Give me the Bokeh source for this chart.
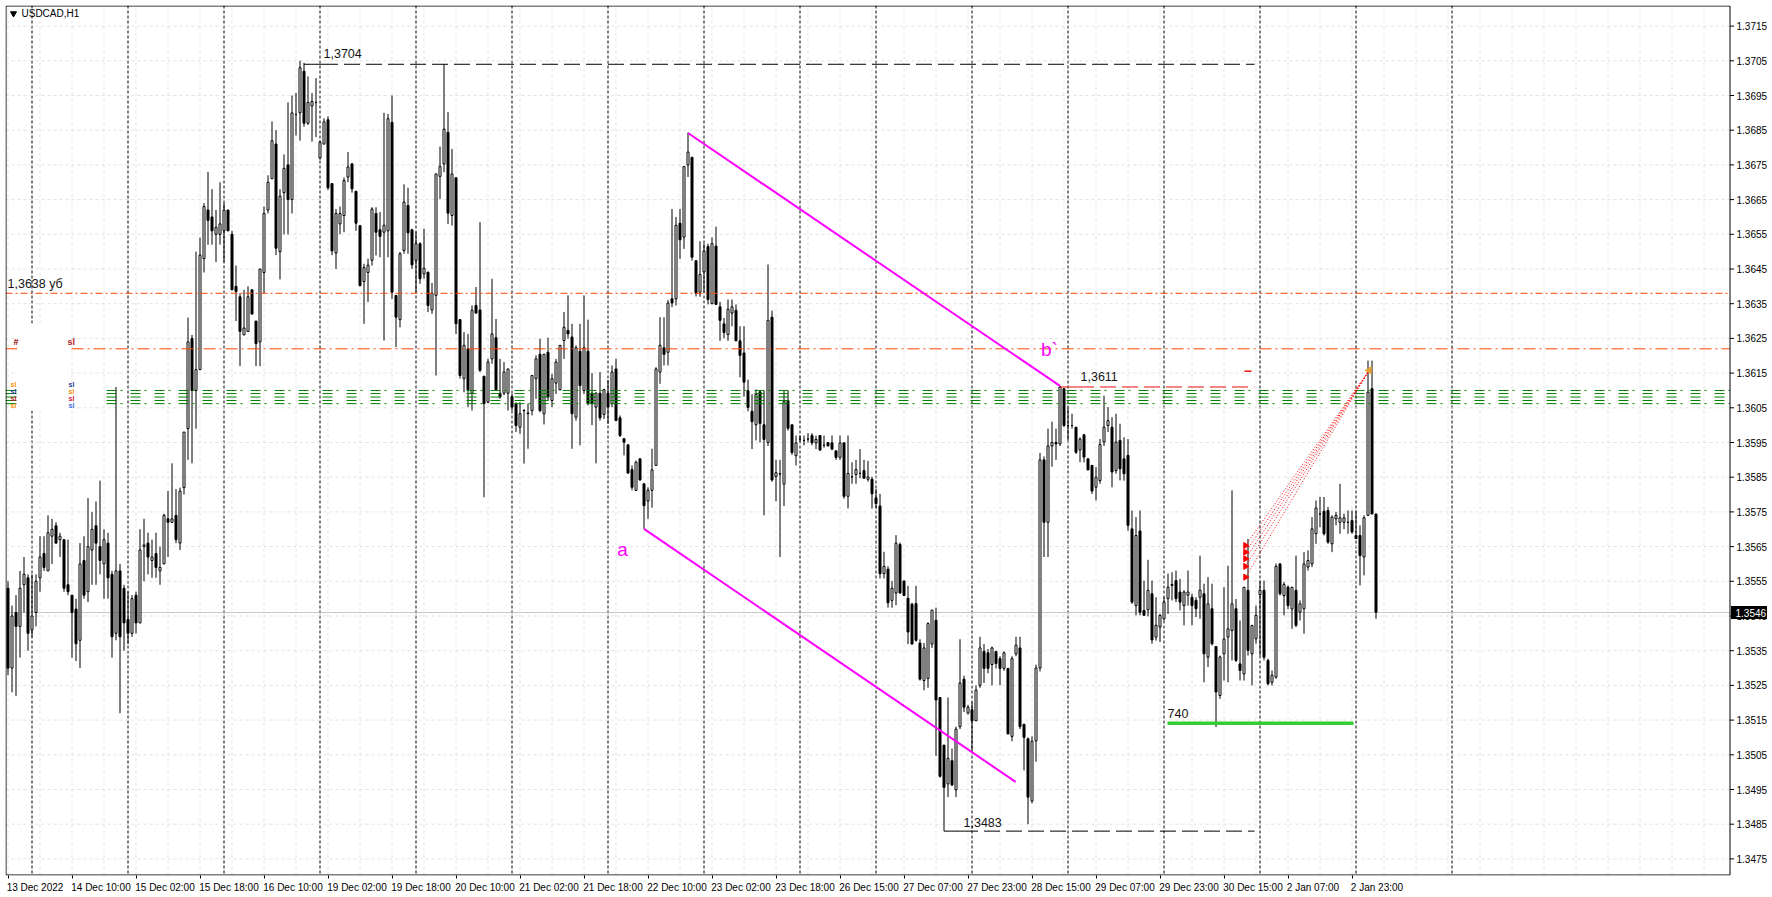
import numpy as np
import pandas as pd
from bokeh.plotting import figure
from bokeh.models import ColumnDataSource, Range1d, FixedTicker, Span
from bokeh.core.properties import value
from bokeh.embed import file_html
from bokeh.resources import INLINE

chart_title = "USDCAD,H1"

opens = [
1.3553,1.3530,1.3546,1.3542,1.3554,1.3556,1.3541,1.3546,1.3556,1.3563,
1.3558,1.3568,1.3571,1.3567,1.3567,1.3554,1.3551,1.3547,1.3538,1.3561,
1.3552,1.3564,1.3571,1.3565,1.3560,1.3566,1.3557,1.3540,1.3558,1.3553,
1.3544,1.3540,1.3551,1.3543,1.3565,1.3566,1.3561,1.3563,1.3558,1.3560,
1.3573,1.3572,1.3574,1.3566,1.3582,1.3599,1.3625,1.3610,1.3616,1.3648,
1.3662,1.3660,1.3655,1.3655,1.3656,1.3662,1.3655,1.3640,1.3637,1.3626,
1.3627,1.3639,1.3630,1.3624,1.3644,1.3662,1.3671,1.3681,1.3650,1.3667,
1.3675,1.3665,1.36895,1.3690,1.3702,1.3687,1.3692,1.3693,1.3677,1.3681,
1.3688,1.36696,1.36496,1.3658,1.36604,1.36715,1.36753,1.36674,1.36575,1.36414,
1.3644,1.36475,1.3661,1.36563,1.36556,1.3656,1.36873,1.36374,1.36304,1.36503,
1.36633,1.36563,1.36475,1.36523,1.36436,1.36441,1.36332,1.36374,1.36717,1.36753,
1.36844,1.36604,1.36713,1.36304,1.36134,1.3622,1.36092,1.36345,1.36332,1.36141,
1.36066,1.36191,1.36252,1.36092,1.36092,1.36092,1.36082,1.36062,1.35994,1.36042,
1.36033,1.36042,1.36134,1.36204,1.36033,1.3621,1.36071,1.36121,1.36102,1.36244,
1.36273,1.36254,1.36023,1.36213,1.3610,1.36213,1.36092,1.36052,1.36092,1.36031,
1.36092,1.36062,1.36162,1.36021,1.35961,1.35943,1.35872,1.35812,1.35903,1.35831,
1.35781,1.35812,1.35884,1.36153,1.36223,1.3621,1.36364,1.36364,1.36582,1.36542,
1.3675,1.36772,1.36474,1.36383,1.36442,1.36515,1.3635,1.36516,1.36341,1.36292,
1.36261,1.36323,1.36331,1.36243,1.36208,1.36099,1.3604,1.36001,1.36096,1.36001,
1.3595,1.36311,1.35852,1.35859,1.3583,1.36071,1.36001,1.35912,1.3596,1.35956,
1.3596,1.3597,1.35949,1.3597,1.35942,1.3595,1.35949,1.35926,1.35907,1.35949,
1.35795,1.35851,1.35858,1.35861,1.35869,1.35844,1.35844,1.3579,1.35767,1.35572,
1.35585,1.35495,1.35516,1.35656,1.35551,1.35501,1.35484,1.35486,1.35372,1.35264,
1.3527,1.35369,1.35438,1.35215,1.35078,1.34966,1.35033,1.34949,1.35131,1.35268,
1.3517,1.3518,1.35148,1.3525,1.35348,1.35344,1.3531,1.35348,1.35327,1.35299,
1.35299,1.35103,1.35341,1.35358,1.35138,1.35096,1.34917,1.3509,1.3530,1.3590,
1.3572,1.3594,1.3595,1.35946,1.36105,1.35999,1.35999,1.35994,1.35929,1.35972,
1.35903,1.35884,1.35821,1.3584,1.35951,1.35999,1.35994,1.35869,1.35956,1.35903,
1.35913,1.35701,1.3548,1.35695,1.35466,1.35468,1.35514,1.35389,1.35418,1.35442,
1.3550,1.35538,1.35552,1.35519,1.3548,1.3551,1.35504,1.35495,1.35504,1.35514,
1.35331,1.35471,1.35362,1.35221,1.35341,1.35389,1.35408,1.35471,1.35312,1.35283,
1.35524,1.35341,1.35384,1.35512,1.35524,1.35322,1.35259,1.35274,1.3560,1.35509,
1.35533,1.3547,1.35524,1.35461,1.35471,1.35591,1.3560,1.35687,1.35744,1.35752,
1.35754,1.35658,1.3573,1.3572,1.3572,1.3572,1.35725,1.35682,1.35682,1.3562,
1.3574,1.36105,1.35744]

highs = [
1.3555,1.3548,1.3551,1.3558,1.3562,1.3557,1.3557,1.3557,1.3568,1.3568,
1.3574,1.3573,1.3572,1.3569,1.3567,1.3567,1.3551,1.3550,1.3566,1.3568,
1.3579,1.3575,1.3578,1.3584,1.3570,1.3569,1.3558,1.3611,1.3560,1.3554,
1.3552,1.3551,1.3552,1.3570,1.3573,1.3569,1.3567,1.3569,1.3565,1.35745,
1.3581,1.3589,1.35816,1.3582,1.3598,1.3631,1.3626,1.3650,1.3654,1.3664,
1.3673,1.3668,1.3662,1.3670,1.3664,1.3662,1.3656,1.3646,1.3638,1.3639,
1.3640,1.3639,1.3630,1.3645,1.3663,1.3672,1.36875,1.3685,1.3668,1.3678,
1.3693,1.3695,1.36957,1.3705,1.37044,1.37005,1.36957,1.3700,1.3682,1.36884,
1.3689,1.36696,1.36623,1.3663,1.36714,1.36787,1.36753,1.36674,1.36575,1.36465,
1.3648,1.36628,1.36628,1.36614,1.3690,1.36897,1.3695,1.36374,1.36499,1.36694,
1.36684,1.36566,1.36556,1.36527,1.36566,1.36441,1.3641,1.36724,1.36803,1.3704,
1.36902,1.36796,1.36713,1.36306,1.36268,1.36263,1.36345,1.36398,1.36585,1.36142,
1.36191,1.36422,1.36306,1.36191,1.36182,1.36162,1.3609,1.36066,1.36066,1.36045,
1.36062,1.36143,1.36201,1.36249,1.36206,1.36252,1.36148,1.36191,1.3623,1.36326,
1.36374,1.36292,1.3623,1.36292,1.36374,1.36304,1.3615,1.36095,1.36153,1.36105,
1.3613,1.36172,1.36191,1.36028,1.35961,1.35946,1.35884,1.35898,1.35903,1.35831,
1.35821,1.35932,1.36167,1.36311,1.36311,1.36361,1.36623,1.3660,1.36623,1.36745,
1.36843,1.36772,1.36474,1.3653,1.36523,1.36523,1.36541,1.36572,1.36355,1.36309,
1.36362,1.36362,1.36348,1.36285,1.36285,1.36131,1.36089,1.36103,1.36099,1.36099,
1.36463,1.3633,1.3590,1.3590,1.36099,1.36099,1.36001,1.3597,1.3597,1.3597,
1.35977,1.35977,1.3597,1.3597,1.3597,1.3595,1.3597,1.35926,1.3597,1.35949,
1.3597,1.35893,1.3590,1.35931,1.3590,1.35897,1.35851,1.35816,1.35802,1.35635,
1.35593,1.35551,1.35683,1.35662,1.35551,1.35537,1.35488,1.35537,1.35383,1.35372,
1.35432,1.35467,1.35474,1.35215,1.35078,1.35215,1.35068,1.35131,1.35383,1.35278,
1.35194,1.35201,1.3525,1.3539,1.35369,1.35355,1.35362,1.35348,1.35334,1.35348,
1.35299,1.35334,1.3539,1.3539,1.35138,1.3510,1.35103,1.3531,1.3592,1.3591,
1.3599,1.3601,1.3599,1.36113,1.36105,1.36052,1.36033,1.35994,1.35965,1.35975,
1.35903,1.35884,1.35879,1.3596,1.36085,1.36052,1.36023,1.36033,1.36004,1.35965,
1.3596,1.35754,1.35735,1.35754,1.35552,1.35612,1.35552,1.35504,1.35456,1.35504,
1.35572,1.35576,1.35581,1.35557,1.35524,1.35581,1.35514,1.35504,1.35624,1.35543,
1.35562,1.35543,1.35362,1.35336,1.35533,1.35595,1.35812,1.35499,1.35437,1.35533,
1.35672,1.35423,1.3548,1.35552,1.35552,1.35327,1.35293,1.35601,1.35602,1.35548,
1.35538,1.35533,1.35624,1.35495,1.35634,1.35639,1.35735,1.35783,1.35793,1.35793,
1.35764,1.3574,1.3575,1.35831,1.35745,1.35754,1.35754,1.35754,1.35711,1.3574,
1.36186,1.36186,1.35744]

lows = [
1.3528,1.3523,1.3522,1.3533,1.3546,1.3535,1.3539,1.3542,1.3552,1.3558,
1.3558,1.3560,1.3566,1.3562,1.3552,1.3551,1.3533,1.3532,1.3530,1.3550,
1.3549,1.3554,1.3554,1.3557,1.3550,1.3550,1.3533,1.3538,1.3517,1.3535,
1.3537,1.3539,1.3540,1.3543,1.3555,1.3557,1.3556,1.3556,1.3554,1.3560,
1.3562,1.3572,1.3566,1.3564,1.3580,1.3590,1.3589,1.3599,1.3616,1.3644,
1.3652,1.3652,1.3647,1.3652,1.3647,1.3656,1.3639,1.3630,1.3617,1.3626,
1.3627,1.3632,1.3617,1.3617,1.3638,1.3661,1.3671,1.3649,1.3642,1.3655,
1.3655,1.3661,1.36835,1.3682,1.3686,1.36865,1.36817,1.3683,1.36765,1.3681,
1.36678,1.3649,1.3645,1.3655,1.36556,1.3670,1.3667,1.3656,1.3640,1.36292,
1.36355,1.3646,1.36489,1.36484,1.36244,1.36484,1.36364,1.36225,1.36282,1.36494,
1.36494,1.3645,1.36383,1.36407,1.36422,1.36326,1.36321,1.36143,1.36652,1.36729,
1.3658,1.36575,1.36263,1.36134,1.36095,1.36052,1.36042,1.36321,1.36153,1.35792,
1.36063,1.36177,1.3610,1.36076,1.36086,1.36042,1.36042,1.3598,1.35975,1.35889,
1.35932,1.36028,1.36076,1.36037,1.36002,1.36071,1.36052,1.3609,1.3610,1.36191,
1.36249,1.35932,1.36013,1.35942,1.3609,1.36057,1.3600,1.3589,1.36013,1.36018,
1.36004,1.36052,1.36013,1.35966,1.35913,1.3586,1.35812,1.3581,1.3584,1.35701,
1.3573,1.35762,1.35884,1.36119,1.36172,1.36172,1.3634,1.36345,1.36479,1.36508,
1.36715,1.36474,1.36371,1.3637,1.36383,1.36348,1.3635,1.36348,1.36243,1.3625,
1.36243,1.36285,1.36243,1.36138,1.36082,1.3604,1.35931,1.35956,1.3595,1.3574,
1.3594,1.35837,1.35781,1.3562,1.35767,1.35984,1.35914,1.35884,1.3595,1.35942,
1.3595,1.35942,1.35931,1.35928,1.35935,1.35939,1.35928,1.3590,1.3590,1.35788,
1.3576,1.35831,1.35831,1.35847,1.35847,1.35837,1.3576,1.3576,1.35558,1.35558,
1.35474,1.35474,1.35481,1.35516,1.35509,1.35369,1.35369,1.35376,1.35264,1.35236,
1.35243,1.35358,1.35047,1.34984,1.3483,1.34928,1.3496,1.34928,1.35124,1.35173,
1.35166,1.35061,1.35148,1.35243,1.35257,1.35285,1.3525,1.35299,1.3525,1.35292,
1.3511,1.35089,1.35334,1.35124,1.35005,1.3485,1.3491,1.3503,1.3529,1.3562,
1.3562,1.3588,1.3590,1.3594,1.35994,1.35956,1.3599,1.35917,1.35893,1.35893,
1.3587,1.35802,1.35783,1.35831,1.3594,1.3598,1.35821,1.3586,1.35841,1.3584,
1.35696,1.35485,1.35452,1.35452,1.35452,1.35449,1.3537,1.35379,1.35375,1.35437,
1.35456,1.35495,1.3549,1.35466,1.35423,1.3548,1.35423,1.35447,1.35442,1.35259,
1.35303,1.35365,1.3513,1.35211,1.35264,1.35259,1.35322,1.35317,1.35264,1.35264,
1.35336,1.3525,1.3537,1.35336,1.35322,1.3525,1.3525,1.35269,1.35509,1.35452,
1.3547,1.35413,1.35418,1.35437,1.35399,1.35581,1.35591,1.35658,1.35706,1.35682,
1.35658,1.35634,1.35711,1.35687,1.3570,1.35687,1.35687,1.35673,1.35538,1.35567,
1.3574,1.35744,1.35442]

closes = [
1.3530,1.3545,1.3542,1.3553,1.3557,1.3540,1.3545,1.3555,1.3562,1.3559,
1.3569,1.3570,1.3566,1.3568,1.3553,1.3552,1.3546,1.3537,1.3560,1.3551,
1.3565,1.3570,1.3566,1.3561,1.3567,1.3556,1.3539,1.3558,1.3539,1.3543,
1.3540,1.3550,1.3543,1.3564,1.35655,1.3562,1.3562,1.3559,1.3559,1.3574,
1.3572,1.3573,1.3567,1.3581,1.3598,1.3624,1.3610,1.3616,1.3649,1.3663,
1.3659,1.3656,1.3657,1.3658,1.3662,1.3656,1.3639,1.36385,1.3627,1.3628,
1.3637,1.3632,1.36235,1.3645,1.3661,1.3670,1.3682,1.3651,1.3666,1.3674,
1.3665,1.3690,1.36895,1.3703,1.3687,1.3693,1.36933,1.3693,1.36815,1.36874,
1.36684,1.36502,1.3661,1.3661,1.36705,1.36744,1.36681,1.36582,1.36402,1.36454,
1.36461,1.36623,1.36556,1.36544,1.36576,1.36883,1.36383,1.36311,1.36494,1.36643,
1.36554,1.36462,1.36523,1.36422,1.36452,1.36345,1.3638,1.36724,1.36745,1.36853,
1.36611,1.36724,1.36292,1.36143,1.3623,1.36102,1.36331,1.36323,1.36158,1.36062,
1.36182,1.36263,1.36102,1.36081,1.36153,1.36162,1.36052,1.35999,1.36033,1.36043,
1.36035,1.36143,1.36191,1.36042,1.36204,1.36081,1.36134,1.36182,1.3623,1.36282,
1.36263,1.36033,1.36223,1.36114,1.36223,1.36062,1.36062,1.36092,1.36021,1.36102,
1.36052,1.36153,1.36013,1.3597,1.35951,1.35862,1.35821,1.35893,1.35842,1.35768,
1.35812,1.35871,1.36162,1.3623,1.36204,1.36352,1.36352,1.36576,1.36534,1.36745,
1.36787,1.36484,1.3638,1.36434,1.36502,1.36362,1.36523,1.36348,1.36302,1.36267,
1.36334,1.36341,1.36243,1.36201,1.36124,1.36051,1.3601,1.36089,1.36005,1.35959,
1.36302,1.35842,1.35863,1.3586,1.36068,1.35991,1.35921,1.35949,1.3596,1.35956,
1.3596,1.35949,1.35959,1.35928,1.35942,1.3594,1.35931,1.35907,1.35949,1.35795,
1.35861,1.35851,1.35872,1.35861,1.35847,1.35851,1.35802,1.35774,1.35572,1.35593,
1.35488,1.3553,1.3566,1.35516,1.35509,1.35404,1.35369,1.3538,1.35268,1.35358,
1.35428,1.35467,1.35208,1.34988,1.34956,1.3504,1.34963,1.35124,1.35257,1.35187,
1.35187,1.35148,1.35236,1.35358,1.35299,1.35299,1.35358,1.35313,1.35299,1.35344,
1.3511,1.35327,1.35366,1.35131,1.3510,1.34928,1.35089,1.3530,1.3590,1.3572,
1.3594,1.3595,1.35946,1.3611,1.35999,1.35999,1.35999,1.35922,1.3596,1.35908,
1.35871,1.3581,1.3585,1.35944,1.35994,1.36013,1.35865,1.35951,1.35874,1.3586,
1.35711,1.3549,1.35682,1.35461,1.35452,1.35524,1.35381,1.35423,1.35452,1.3549,
1.35533,1.35541,1.3550,1.3549,1.35519,1.35519,1.3548,1.35471,1.35524,1.35341,
1.35485,1.3537,1.35231,1.35332,1.35384,1.35413,1.35485,1.35322,1.35293,1.35533,
1.35351,1.35423,1.35452,1.35524,1.35331,1.35255,1.35279,1.35593,1.35514,1.35541,
1.3548,1.35533,1.35423,1.35485,1.3560,1.3561,1.35701,1.35761,1.35744,1.35687,
1.35663,1.35735,1.3574,1.35733,1.35733,1.3572,1.35692,1.35673,1.35624,1.35733,
1.36095,1.35744,1.35461]

x_label_bars = [0, 16, 32, 48, 64, 80, 96, 112, 128, 144, 160, 176, 192, 208,
                224, 240, 256, 272, 288, 304, 320, 336]
x_labels = ["13 Dec 2022", "14 Dec 10:00", "15 Dec 02:00", "15 Dec 18:00", "16 Dec 10:00",
            "19 Dec 02:00", "19 Dec 18:00", "20 Dec 10:00", "21 Dec 02:00", "21 Dec 18:00",
            "22 Dec 10:00", "23 Dec 02:00", "23 Dec 18:00", "26 Dec 15:00", "27 Dec 07:00",
            "27 Dec 23:00", "28 Dec 15:00", "29 Dec 07:00", "29 Dec 23:00", "30 Dec 15:00",
            "2 Jan 07:00", "2 Jan 23:00"]
day_separator_bars = [6, 30, 54, 78, 102, 126, 150, 174, 198, 217, 241, 265, 289, 313, 337, 361]
y_tick_values = [1.3475, 1.3485, 1.3495, 1.3505, 1.3515, 1.3525, 1.3535, 1.3545, 1.3555,
                 1.3565, 1.3575, 1.3585, 1.3595, 1.3605, 1.3615, 1.3625, 1.3635, 1.3645,
                 1.3655, 1.3665, 1.3675, 1.3685, 1.3695, 1.3705, 1.3715]
bid_price = 1.3546

level_high = 1.3704
level_high_bar = 74
level_low = 1.3483
level_low_bar = 234
level_b = 1.3611
level_b_bar = 263
level_sl_text = 1.3638
level_sl = 1.3622
green_levels = [1.3610, 1.36091, 1.36081, 1.36071, 1.36062]
support_740 = 1.35141
channel_upper = [(169.99, 1.36842), (263.0, 1.36113)]
channel_lower = [(159.0, 1.35701), (251.9, 1.34972)]
fan_start_prices = [1.35653, 1.35634, 1.35615, 1.35593, 1.35562]
fan_end = (340.3, 1.36158)

# ---------- pixel geometry (page pixels of the reference) ----------
PX_BAR = 4.0
X0_PAGE = 7.5          # page x of bar 0 centre
PX_PRICE = 34700.0     # pixels per 1.0 of price
Y_REF_PAGE, Y_REF_PRICE = 442.0, 1.3595
FRAME_LEFT, FRAME_TOP = 5.0, 5.0
CANVAS_W, FRAME_H = 1762, 870       # drawing area incl. the price scale strip
CHART_RIGHT = 1729.5                 # page x of the chart window's right border

def bx(xpage):
    return (xpage - X0_PAGE) / PX_BAR

def py(ypage):
    return Y_REF_PRICE + (Y_REF_PAGE - ypage) / PX_PRICE

x_start = bx(FRAME_LEFT)
x_end = x_start + CANVAS_W / PX_BAR
y_end = py(FRAME_TOP)
y_start = y_end - FRAME_H / PX_PRICE
xr = bx(CHART_RIGHT)

FONT = value("Liberation Sans")

p = figure(width=1767, height=890, frame_width=CANVAS_W, frame_height=FRAME_H,
           x_range=Range1d(x_start, x_end), y_range=Range1d(y_start, y_end),
           output_backend="svg", toolbar_location=None, y_axis_location=None,
           min_border_left=int(FRAME_LEFT), min_border_top=int(FRAME_TOP),
           min_border_right=0, min_border_bottom=0,
           background_fill_color="white", border_fill_color="white")
p.outline_line_color = None
p.xgrid.visible = False
p.ygrid.visible = False

# grid (light dashed)
vgrid = [b for b in range(0, 431, 8) if b < xr]
p.segment(x0=vgrid, y0=[y_start] * len(vgrid), x1=vgrid, y1=[y_end] * len(vgrid),
          line_color="#E2E2E2", line_dash="3 3", line_width=1)
p.segment(x0=[x_start] * len(y_tick_values), y0=y_tick_values, x1=[xr] * len(y_tick_values),
          y1=y_tick_values, line_color="#E2E2E2", line_dash="3 3", line_width=1)

# bottom axis: labels left-aligned at the tick like MT4
cw = {" ": .278, ":": .278, "D": .722, "e": .556, "c": .5, "J": .5, "a": .556, "n": .556}
def text_w(s, size=10.0):
    return size * sum(cw.get(ch, .556) for ch in s)

centres = []
overrides = {}
for b, lab in zip(x_label_bars, x_labels):
    c = b + round(((text_w(lab) / 2.0 - 1.0) / PX_BAR) * 4) / 4.0
    centres.append(c)
    overrides[c] = lab
xa = p.xaxis[0]
xa.ticker = FixedTicker(ticks=centres, minor_ticks=x_label_bars)
xa.major_label_overrides = overrides
xa.major_tick_out = 0
xa.major_tick_in = 0
xa.minor_tick_out = 3
xa.minor_tick_in = 0
xa.minor_tick_line_color = "black"
xa.major_label_standoff = 3
xa.major_label_text_font = "Liberation Sans"
xa.major_label_text_font_size = "10px"
xa.major_label_text_color = "black"
xa.axis_line_color = None

# day separators
for b in day_separator_bars:
    p.add_layout(Span(location=b, dimension="height", line_color="black",
                      line_dash="3 2", line_width=1, level="underlay"))

# bid line
p.segment(x0=[x_start], y0=[bid_price], x1=[xr], y1=[bid_price], line_color="#C8C8C8", line_width=1)

# candles
df = pd.DataFrame(dict(open=opens, high=highs, low=lows, close=closes))
df["bar"] = np.arange(len(df))
df["high"] = df[["high", "open", "close"]].max(axis=1)
df["low"] = df[["low", "open", "close"]].min(axis=1)
df["top"] = df[["open", "close"]].max(axis=1)
df["bottom"] = df[["open", "close"]].min(axis=1)
df["fill"] = np.where(df["close"] >= df["open"], "white", "black")
src = ColumnDataSource(df)
p.segment(x0="bar", y0="low", x1="bar", y1="high", source=src, line_color="black", line_width=1)
p.vbar(x="bar", width=0.5, top="top", bottom="bottom", source=src,
       fill_color="fill", line_color="black", line_width=1)

# horizontal orange lines
p.segment(x0=[x_start], y0=[level_sl_text], x1=[xr], y1=[level_sl_text],
          line_color="#FF4500", line_width=1, line_dash="7 3 2 3")
p.segment(x0=[x_start], y0=[level_sl], x1=[xr], y1=[level_sl],
          line_color="#FF4500", line_width=1, line_dash="12 4 2 4")

# green level stack
gx0 = bx(106)
for i, lv in enumerate(green_levels):
    dash = "10 4 2 8" if i in (0, 4) else "10 14"
    p.segment(x0=[gx0], y0=[lv], x1=[xr], y1=[lv], line_color="#008000",
              line_width=1, line_dash=dash)
    p.segment(x0=[x_start], y0=[lv], x1=[bx(16)], y1=[lv], line_color="#008000", line_width=1)

# white label box on the left
p.quad(left=[bx(17)], right=[bx(68)], top=[py(323)], bottom=[py(410)],
       fill_color="white", line_color=None)
p.text(x=[bx(13), bx(67)], y=[py(341), py(341)], text=["#", "sl"],
       text_font=FONT, text_font_size=value("9px"), text_font_style="bold",
       text_color=["#8B0000", "#B22222"], text_baseline="middle", text_align="left")
tiny_y = [py(384), py(391), py(398), py(405)]
p.text(x=[bx(10)] * 4, y=tiny_y, text=["sl"] * 4, text_font=FONT,
       text_font_size=value("7px"), text_font_style="bold",
       text_color=["#FF8C00", "#1E3C8C", "#B22222", "#FF8C00"], text_baseline="middle")
p.text(x=[bx(68)] * 4, y=tiny_y, text=["sl", "sl", "sl", "sl"], text_font=FONT,
       text_font_size=value("7px"), text_font_style="bold",
       text_color=["#1E3C8C", "#FF8C00", "#DC143C", "#4169E1"], text_baseline="middle")

# level lines with labels
seg_end = bx(1254)
for lv, b0, col in ((level_high, level_high_bar, "black"), (level_low, level_low_bar, "black"),
                    (level_b, level_b_bar, "#E81010")):
    p.segment(x0=[b0], y0=[lv], x1=[b0 + 4.5], y1=[lv], line_color=col, line_width=1)
    p.segment(x0=[b0 + 4.5], y0=[lv], x1=[seg_end], y1=[lv], line_color=col,
              line_width=1, line_dash="16 6")
p.segment(x0=[bx(1244)], y0=[py(370.7)], x1=[bx(1251)], y1=[py(370.7)],
          line_color="#E81010", line_width=1.5)

p.text(x=[bx(323), bx(963), bx(1080), bx(7)],
       y=[py(53), py(822), py(376), py(283)],
       text=["1,3704", "1,3483", "1,3611", "1,3638 уб"],
       text_font=FONT, text_font_size=value("12.5px"), text_color="#141414",
       text_baseline="middle", text_align="left")

# magenta channel
p.line(x=[c[0] for c in channel_upper], y=[c[1] for c in channel_upper],
       line_color="#FF00FF", line_width=2)
p.line(x=[c[0] for c in channel_lower], y=[c[1] for c in channel_lower],
       line_color="#FF00FF", line_width=2)
p.text(x=[bx(622), bx(1049)], y=[py(549), py(349)], text=["a", "b`"],
       text_font=FONT, text_font_size=value("19px"), text_color="#FF00FF",
       text_baseline="middle", text_align="center")

# 740 support
p.segment(x0=[bx(1167)], y0=[support_740], x1=[bx(1353)], y1=[support_740],
          line_color="#32CD32", line_width=3.5)
p.text(x=[bx(1167)], y=[py(713)], text=["740"], text_font=FONT,
       text_font_size=value("12.5px"), text_color="#141414",
       text_baseline="middle", text_align="left")

# red dotted fan
fan_x0 = bx(1245)
for fp in fan_start_prices:
    p.segment(x0=[fan_x0], y0=[fp], x1=[fan_end[0]], y1=[fan_end[1]],
              line_color="#FF0000", line_width=1, line_dash="1 2")
p.scatter(x=[fan_x0] * len(fan_start_prices), y=fan_start_prices, marker="triangle",
          angle=-np.pi / 2, size=6, fill_color="#FF0000", line_color="#FF0000")
p.scatter(x=[fan_end[0]], y=[fan_end[1]], marker="triangle", angle=np.pi / 2,
          size=7, fill_color="#E0A030", line_color="#E0A030")

# title
p.scatter(x=[bx(13)], y=[py(13)], marker="inverted_triangle", size=6,
          fill_color="black", line_color="black")
p.text(x=[bx(21)], y=[py(13)], text=[chart_title], text_font=FONT,
       text_font_size=value("10px"), text_color="black",
       text_baseline="middle", text_align="left")

# chart window border
ytop, ybot, xl = py(5.5), py(874.5), bx(5.5)
p.segment(x0=[xl, xl, xl, xr], y0=[ytop, ybot, ybot, ybot],
          x1=[xr, xr, xl, xr], y1=[ytop, ybot, ytop, ytop],
          line_color="black", line_width=1)

# price scale (right): tick marks, labels and the bid price box
n = len(y_tick_values)
p.segment(x0=[xr] * n, y0=y_tick_values, x1=[bx(1733.5)] * n, y1=y_tick_values,
          line_color="black", line_width=1)
p.text(x=[bx(1736)] * n, y=y_tick_values, text=["%.4f" % v for v in y_tick_values],
       text_font=FONT, text_font_size=value("10px"), text_color="black",
       text_baseline="middle", text_align="left")
p.quad(left=[bx(1730.5)], right=[bx(1766.5)], top=[py(605.5)], bottom=[py(618.5)],
       fill_color="black", line_color=None)
p.text(x=[bx(1735)], y=[bid_price], text=["%.4f" % bid_price], text_font=FONT,
       text_font_size=value("10px"), text_color="white",
       text_baseline="middle", text_align="left")

open("out.html", "w").write(file_html(p, INLINE))
